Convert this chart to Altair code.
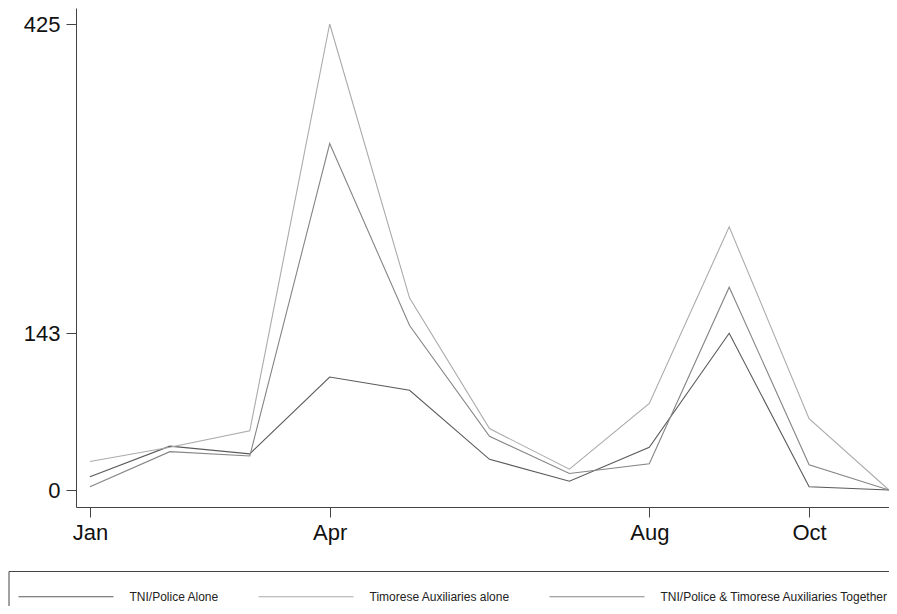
import altair as alt
import pandas as pd

months = ["Jan", "Feb", "Mar", "Apr", "May", "Jun", "Jul", "Aug", "Sep", "Oct", "Nov"]
month_idx = list(range(11))
tni_alone = [12, 40, 33, 103, 91, 28, 8, 39, 143, 3, 0]
aux_alone = [26, 39, 54, 425, 175, 56, 19, 79, 240, 65, 0]
together = [3, 35, 31, 316, 150, 49, 15, 24, 185, 23, 0]
series_names = ["TNI/Police Alone", "Timorese Auxiliaries alone",
                "TNI/Police & Timorese Auxiliaries Together"]
series_colors = ["#5a5a5a", "#ababab", "#858585"]
y_ticks = [0, 143, 425]
x_ticks = [0, 3, 7, 9]

rows = []
for name, vals in zip(series_names, [tni_alone, aux_alone, together]):
    for i, m, v in zip(month_idx, months, vals):
        rows.append({"idx": i, "month": m, "value": v, "series": name})
df = pd.DataFrame(rows)

label_expr = "[" + ",".join("'%s'" % m for m in months) + "][datum.value]"

chart = alt.Chart(df).mark_line(strokeWidth=1.1).encode(
    x=alt.X("idx:Q", scale=alt.Scale(domain=[-0.175, 10.0], nice=False, zero=False),
            axis=alt.Axis(values=x_ticks, labelExpr=label_expr, title=None, grid=False,
                          tickSize=10, labelPadding=5, labelFontSize=22,
                          labelFont="Liberation Sans", labelColor="#111",
                          domainColor="#444", tickColor="#444")),
    y=alt.Y("value:Q", scale=alt.Scale(domain=[-15.5, 439.6], nice=False, zero=False),
            axis=alt.Axis(values=y_ticks, title=None, grid=False, tickSize=10,
                          labelPadding=6, labelFontSize=22, labelFont="Liberation Sans",
                          labelColor="#111", domainColor="#444", tickColor="#444")),
    color=alt.Color("series:N",
                    scale=alt.Scale(domain=series_names, range=series_colors),
                    legend=alt.Legend(title=" ", titleFontSize=1, titlePadding=5,
                                      orient="none", legendX=-67.5, legendY=563,
                                      direction="horizontal", symbolType="M-1,0H9",
                                      symbolSize=361, symbolStrokeWidth=1.1,
                                      labelFontSize=12, labelFont="Liberation Sans",
                                      labelColor="#222", labelOffset=91, labelLimit=0,
                                      columnPadding=36, padding=9,
                                      strokeColor="#444")),
    order="idx:Q",
).properties(
    width=813, height=499,
    autosize=alt.AutoSizeParams(type="none"),
    padding={"left": 68, "top": 0, "right": 0, "bottom": 99},
    background="white",
).configure_view(stroke=None)

chart.save("out.html", embed_options={"renderer": "svg", "actions": False})
